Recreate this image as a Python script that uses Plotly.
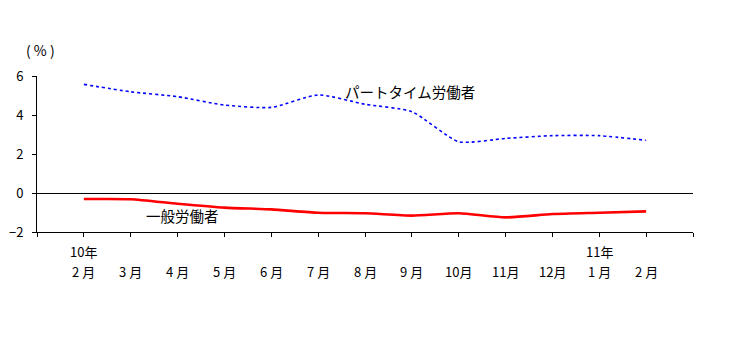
import plotly.graph_objects as go

months = ["2 月", "3 月", "4 月", "5 月", "6 月", "7 月", "8 月", "9 月", "10月", "11月", "12月", "1 月", "2 月"]
years = ["10年", "", "", "", "", "", "", "", "", "", "", "11年", ""]
part_time = [5.57, 5.19, 4.94, 4.51, 4.39, 5.03, 4.55, 4.17, 2.63, 2.80, 2.94, 2.94, 2.70]
general = [-0.31, -0.32, -0.55, -0.75, -0.84, -1.01, -1.04, -1.16, -1.04, -1.25, -1.08, -1.01, -0.94]
y_ticks = [-2, 0, 2, 4, 6]

FONT = "Noto Sans CJK JP"
x = list(range(len(months)))

fig = go.Figure()
fig.add_trace(go.Scatter(x=x, y=part_time, mode="lines",
                         line=dict(color="#0000ff", width=1.6, dash="dot", shape="spline", smoothing=0.6)))
fig.add_trace(go.Scatter(x=x, y=general, mode="lines",
                         line=dict(color="#ff0000", width=2.6, shape="spline", smoothing=0.6)))

tickvals = [-1] + x + [len(x)]

annotations = [
    dict(text="( % )", xref="paper", yref="paper", x=0.0, y=1.0, xshift=3, yshift=26,
         xanchor="center", yanchor="middle", showarrow=False, font=dict(family=FONT, size=14)),
    dict(text="パートタイム労働者", xref="x", yref="y", x=5.53, y=5.2, xanchor="left", yanchor="middle",
         showarrow=False, font=dict(family=FONT, size=14.5)),
    dict(text="一般労働者", xref="x", yref="y", x=1.28, y=-1.15, xanchor="left", yanchor="middle",
         showarrow=False, font=dict(family=FONT, size=14.5)),
]
for xi, m, yr in zip(x, months, years):
    annotations.append(dict(text=m, xref="x", yref="paper", x=xi, y=0, yshift=-39,
                            xanchor="center", yanchor="middle", showarrow=False,
                            font=dict(family=FONT, size=13)))
    if yr:
        annotations.append(dict(text=yr, xref="x", yref="paper", x=xi, y=0, yshift=-19,
                                xanchor="center", yanchor="middle", showarrow=False,
                                font=dict(family=FONT, size=13)))

fig.update_layout(
    width=747, height=357,
    margin=dict(l=29, r=62, t=68, b=133),
    paper_bgcolor="white", plot_bgcolor="white",
    showlegend=False,
    font=dict(family=FONT, size=13, color="black"),
    xaxis=dict(range=[-1, len(x)], tickvals=tickvals, showticklabels=False, automargin=False,
               showgrid=False, zeroline=False, showline=True, linecolor="black", linewidth=1,
               ticks="outside", ticklen=4, tickcolor="black"),
    yaxis=dict(range=[-2, 6], tickvals=y_ticks, showgrid=False, automargin=False,
               zeroline=True, zerolinecolor="black", zerolinewidth=1,
               showline=True, linecolor="black", linewidth=1,
               ticks="outside", ticklen=4, tickcolor="black", ticklabelstandoff=6,
               tickfont=dict(family=FONT, size=13)),
    annotations=annotations,
)

fig.write_html("out.html")
